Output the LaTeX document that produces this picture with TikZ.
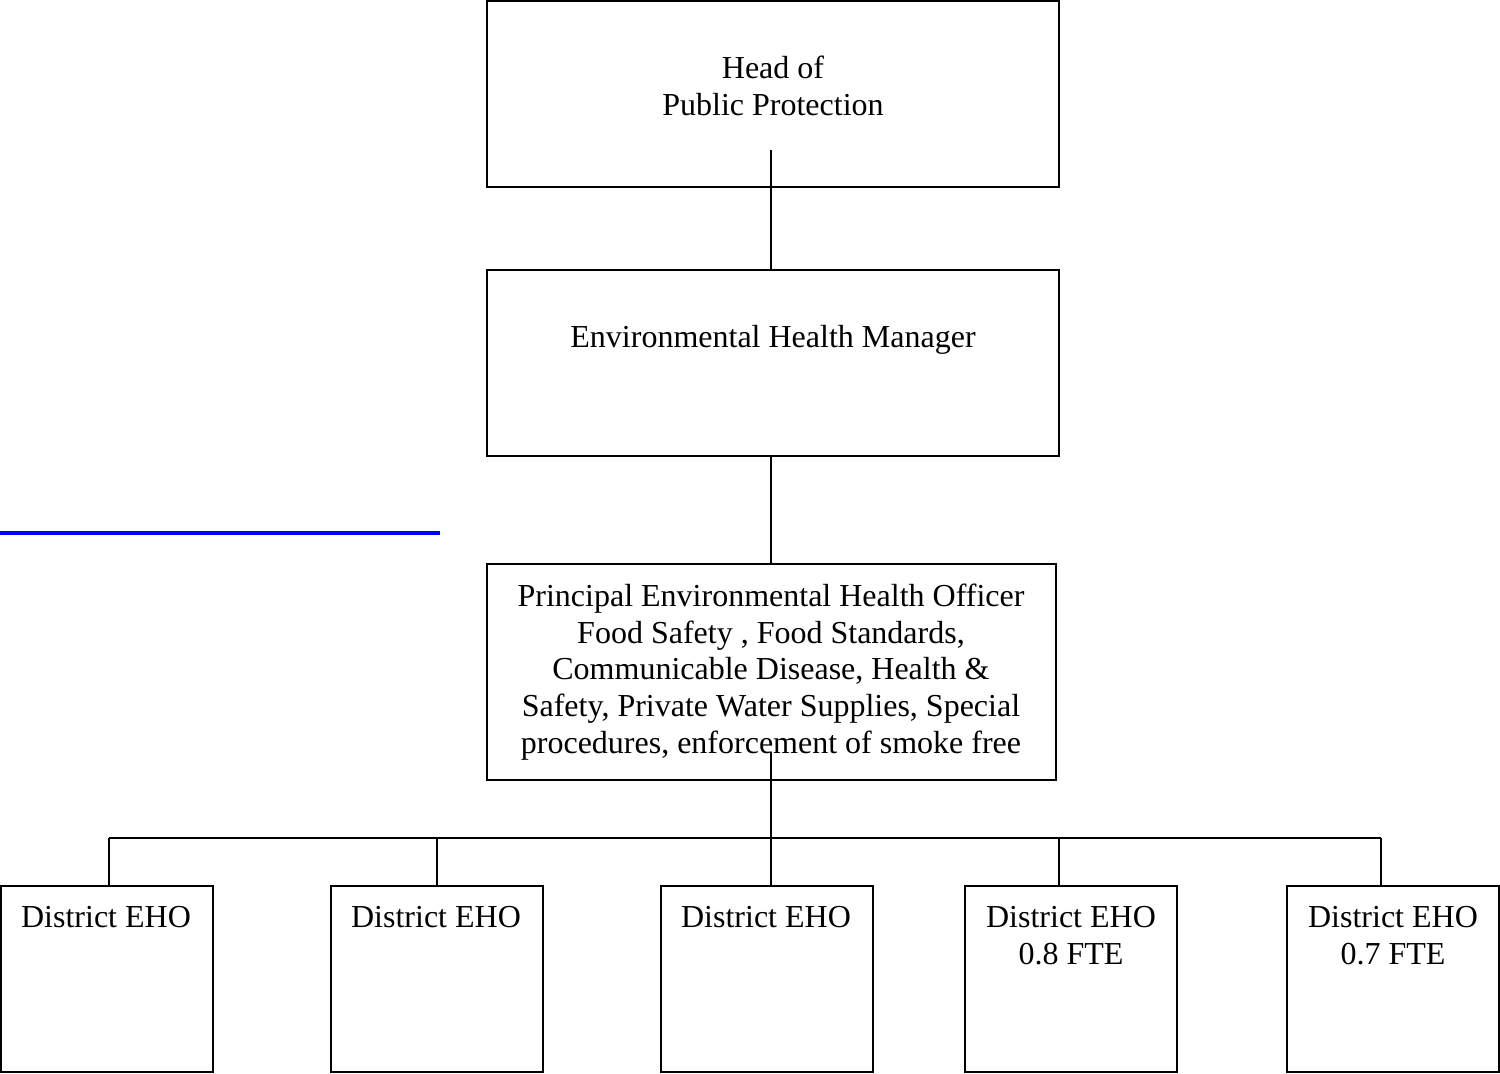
\documentclass[tikz,border=0pt]{standalone}
\usepackage{fontspec}
\setmainfont{Liberation Serif}
\begin{document}
\begin{tikzpicture}[x=0.5pt,y=-0.5pt,
  box/.style={draw=black, line width=1pt, rectangle, inner sep=0pt, minimum width=#1},
  box/.default=106pt,
  txt/.style={align=center, inner sep=0pt, font=\fontsize{16}{18.4}\selectfont},
  conn/.style={draw=black, line width=0.9pt}]
\useasboundingbox (0,0) rectangle (1500,1073);
% top levels
\node[box=286pt, minimum height=93pt] (A) at (773,94) {};
\node[txt] (At) at (773,86) {Head of\\Public Protection};
\node[box=286pt, minimum height=93pt] (B) at (773,363) {};
\node[txt] (Bt) at (773,340) {Environmental Health Manager};
\node[box=284.5pt, minimum height=108pt] (C) at (771.5,672) {};
\node[txt] (Ct) at (771,672) {Principal Environmental Health Officer\\Food Safety , Food Standards,\\Communicable Disease, Health \&\\Safety, Private Water Supplies, Special\\procedures, enforcement of smoke free};
% district boxes
\node[box, minimum height=93pt] (E1) at (107,979) {};
\node[box, minimum height=93pt] (E2) at (437,979) {};
\node[box, minimum height=93pt] (E3) at (767,979) {};
\node[box, minimum height=93pt] (E4) at (1071,979) {};
\node[box, minimum height=93pt] (E5) at (1393,979) {};
\node[txt] (E1t) at (106,917) {District EHO};
\node[txt] (E2t) at (436,917) {District EHO};
\node[txt] (E3t) at (766,917) {District EHO};
\node[txt] (E4t) at (1071,935.5) {District EHO\\0.8 FTE};
\node[txt] (E5t) at (1393,935.5) {District EHO\\0.7 FTE};
% connectors
\coordinate (a1) at (771,150);
\draw[conn] (a1) -- (a1 |- B.north);
\coordinate (b1) at (771,456);
\draw[conn] (b1) -- (b1 |- C.north);
\coordinate (c1) at (771,752);
\coordinate (d1) at (109,838);
\coordinate (d2) at (437,838);
\coordinate (d3) at (771,838);
\coordinate (d4) at (1059,838);
\coordinate (d5) at (1381,838);
\draw[conn] (c1) -- (c1 |- E3.north);
\draw[conn] (d1) -- (d5);
\draw[conn] (d1) -- (d1 |- E1.north);
\draw[conn] (d2) -- (d2 |- E2.north);
\draw[conn] (d4) -- (d4 |- E4.north);
\draw[conn] (d5) -- (d5 |- E5.north);
% blue line
\coordinate (bl1) at (0,533);
\coordinate (bl2) at (440,533);
\draw[blue, line width=2pt] (bl1) -- (bl2);
\end{tikzpicture}
\end{document}
